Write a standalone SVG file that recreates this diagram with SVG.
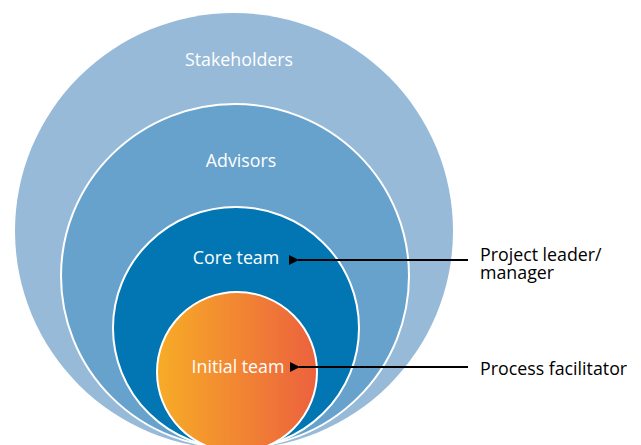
<svg xmlns="http://www.w3.org/2000/svg" width="641" height="445" viewBox="0 0 641 445">
<defs>
<linearGradient id="orange" x1="0" y1="0" x2="1" y2="0">
<stop offset="0" stop-color="#F7AC27"/>
<stop offset="1" stop-color="#EC613E"/>
</linearGradient>
<marker id="arrow" viewBox="0 0 10 10" refX="1" refY="5" markerWidth="10" markerHeight="10" markerUnits="userSpaceOnUse" orient="auto">
<path d="M10,0 L0,5 L10,10 Z" fill="#000"/>
</marker>
</defs>
<style>
.ring{stroke:#fff;stroke-width:2}
.lbl{font-family:"Open Sans","Noto Sans",sans-serif;font-size:17.8px;fill:#fff;text-anchor:middle}
.side{font-family:"Open Sans","Noto Sans",sans-serif;font-size:17.8px;fill:#000}
.conn{stroke:#000;stroke-width:2;fill:none}
</style>
<rect width="641" height="445" fill="#fff"/>
<g id="stakeholders">
<ellipse cx="234" cy="231" rx="219" ry="218" fill="#97BAD9"/>
<text class="lbl" x="239" y="66">Stakeholders</text>
</g>
<g id="advisors">
<ellipse class="ring" cx="235" cy="276" rx="174" ry="172" fill="#67A2CD"/>
<text class="lbl" x="241" y="167">Advisors</text>
</g>
<g id="core-team">
<ellipse class="ring" cx="236" cy="328" rx="123" ry="121" fill="#0276B3"/>
<text class="lbl" x="236" y="264">Core team</text>
</g>
<g id="initial-team">
<ellipse class="ring" cx="237" cy="372" rx="80" ry="80" fill="url(#orange)"/>
<text class="lbl" x="238" y="373">Initial team</text>
</g>
<g id="connectors">
<line class="conn" x1="468" y1="260" x2="298" y2="260" marker-end="url(#arrow)"/>
<line class="conn" x1="468" y1="367" x2="299" y2="367" marker-end="url(#arrow)"/>
</g>
<g id="project-leader">
<text class="side" x="480" y="261"><tspan x="480" y="261">Project leader/</tspan><tspan x="480" y="279">manager</tspan></text>
</g>
<g id="process-facilitator">
<text class="side" x="480" y="375">Process facilitator</text>
</g>
</svg>
